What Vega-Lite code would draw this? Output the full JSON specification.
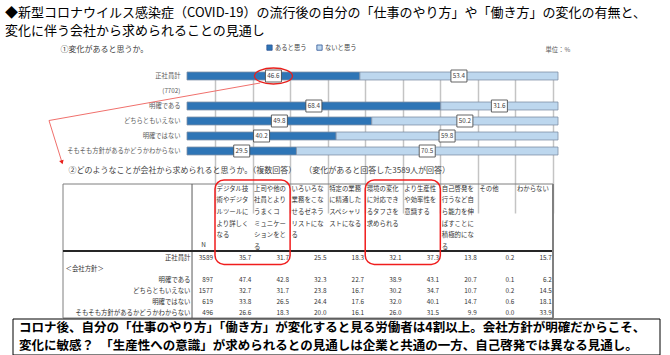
{
  "$schema": "https://vega.github.io/schema/vega-lite/v6.json",
  "width": 670,
  "height": 317,
  "padding": {"top": 7, "left": 0, "right": 0, "bottom": 0},
  "autosize": {"type": "pad"},
  "config": {"font": "Noto Sans CJK JP", "view": {"stroke": null}},
  "title": {
    "text": ["◆新型コロナウイルス感染症（COVID-19）の流行後の自分の「仕事のやり方」や「働き方」の変化の有無と、", "変化に伴う会社から求められることの見通し"],
    "anchor": "start", "fontSize": 13, "lineHeight": 18, "fontWeight": "normal", "color": "#000000", "offset": 2, "dx": 5, "font": "Noto Sans CJK JP"
  },
  "datasets": {
    "bars": [
      {"grp": "正社員計", "type": "あると思う", "pct": 46.6},
      {"grp": "正社員計", "type": "ないと思う", "pct": 53.4},
      {"grp": "明確である", "type": "あると思う", "pct": 68.4},
      {"grp": "明確である", "type": "ないと思う", "pct": 31.6},
      {"grp": "どちらともいえない", "type": "あると思う", "pct": 49.8},
      {"grp": "どちらともいえない", "type": "ないと思う", "pct": 50.2},
      {"grp": "明確ではない", "type": "あると思う", "pct": 40.2},
      {"grp": "明確ではない", "type": "ないと思う", "pct": 59.8},
      {"grp": "そもそも方針があるかどうかわからない", "type": "あると思う", "pct": 29.5},
      {"grp": "そもそも方針があるかどうかわからない", "type": "ないと思う", "pct": 70.5}
    ],
    "cols": [
      {"col": "デジタル技術やデジタルツールにより詳しくなる", "lines": ["デジタル技", "術やデジタ", "ルツールに", "より詳しく", "なる"]},
      {"col": "上司や他の社員とよりうまくコミュニケーションをとる", "lines": ["上司や他の", "社員とより", "うまくコ", "ミュニケー", "ションをと", "る"]},
      {"col": "いろいろな業務をこなせるゼネラリストになる", "lines": ["いろいろな", "業務をこな", "せるゼネラ", "リストにな", "る"]},
      {"col": "特定の業務に精通したスペシャリストになる", "lines": ["特定の業務", "に精通した", "スペシャリ", "ストになる"]},
      {"col": "環境の変化に対応できるタフさを求められる", "lines": ["環境の変化", "に対応でき", "るタフさを", "求められる"]},
      {"col": "より生産性や効率性を意識する", "lines": ["より生産性", "や効率性を", "意識する"]},
      {"col": "自己啓発を行うなど自ら能力を伸ばすことに積極的になる", "lines": ["自己啓発を", "行うなど自", "ら能力を伸", "ばすことに", "積極的にな", "る"]},
      {"col": "その他", "lines": ["その他"]},
      {"col": "わからない", "lines": ["わからない"]}
    ],
    "highlight": [
      {"from": "デジタル技術やデジタルツールにより詳しくなる", "to": "上司や他の社員とよりうまくコミュニケーションをとる"},
      {"from": "環境の変化に対応できるタフさを求められる", "to": "より生産性や効率性を意識する"}
    ],
    "table": [
      {"row": "正社員計", "N": 3589, "デジタル技術やデジタルツールにより詳しくなる": 35.7, "上司や他の社員とよりうまくコミュニケーションをとる": 31.7, "いろいろな業務をこなせるゼネラリストになる": 25.5, "特定の業務に精通したスペシャリストになる": 18.3, "環境の変化に対応できるタフさを求められる": 32.1, "より生産性や効率性を意識する": 37.3, "自己啓発を行うなど自ら能力を伸ばすことに積極的になる": 13.8, "その他": 0.2, "わからない": 15.7},
      {"row": "明確である", "N": 897, "デジタル技術やデジタルツールにより詳しくなる": 47.4, "上司や他の社員とよりうまくコミュニケーションをとる": 42.8, "いろいろな業務をこなせるゼネラリストになる": 32.3, "特定の業務に精通したスペシャリストになる": 22.7, "環境の変化に対応できるタフさを求められる": 38.9, "より生産性や効率性を意識する": 43.1, "自己啓発を行うなど自ら能力を伸ばすことに積極的になる": 20.7, "その他": 0.1, "わからない": 6.2},
      {"row": "どちらともいえない", "N": 1577, "デジタル技術やデジタルツールにより詳しくなる": 32.7, "上司や他の社員とよりうまくコミュニケーションをとる": 31.7, "いろいろな業務をこなせるゼネラリストになる": 23.8, "特定の業務に精通したスペシャリストになる": 16.7, "環境の変化に対応できるタフさを求められる": 30.2, "より生産性や効率性を意識する": 34.7, "自己啓発を行うなど自ら能力を伸ばすことに積極的になる": 10.7, "その他": 0.2, "わからない": 14.5},
      {"row": "明確ではない", "N": 619, "デジタル技術やデジタルツールにより詳しくなる": 33.8, "上司や他の社員とよりうまくコミュニケーションをとる": 26.5, "いろいろな業務をこなせるゼネラリストになる": 24.4, "特定の業務に精通したスペシャリストになる": 17.6, "環境の変化に対応できるタフさを求められる": 32.0, "より生産性や効率性を意識する": 40.1, "自己啓発を行うなど自ら能力を伸ばすことに積極的になる": 14.7, "その他": 0.6, "わからない": 18.1},
      {"row": "そもそも方針があるかどうかわからない", "N": 496, "デジタル技術やデジタルツールにより詳しくなる": 26.6, "上司や他の社員とよりうまくコミュニケーションをとる": 18.3, "いろいろな業務をこなせるゼネラリストになる": 20.0, "特定の業務に精通したスペシャリストになる": 16.1, "環境の変化に対応できるタフさを求められる": 26.0, "より生産性や効率性を意識する": 31.5, "自己啓発を行うなど自ら能力を伸ばすことに積極的になる": 9.9, "その他": 0.0, "わからない": 33.9}
    ],
    "nhead": [{"h": "N"}],
    "summary": [
      {"kind": "まとめ", "lines": ["コロナ後、自分の「仕事のやり方」「働き方」が変化すると見る労働者は4割以上。会社方針が明確だからこそ、", "変化に敏感？　「生産性への意識」が求められるとの見通しは企業と共通の一方、自己啓発では異なる見通し。"]}
    ]
  },
  "layer": [
    {
      "data": {"name": "bars"},
      "encoding": {
        "y": {
          "field": "grp", "type": "nominal",
          "scale": {"domain": ["正社員計", "(7702)", "明確である", "どちらともいえない", "明確ではない", "そもそも方針があるかどうかわからない"], "range": [28.5, 118.5], "paddingInner": 0.47, "paddingOuter": 0.235},
          "axis": {"orient": "left", "offset": -187, "domain": false, "ticks": false, "grid": false, "labelPadding": 7, "labelFontSize": 6.3, "labelColor": "#595959", "labelLimit": 0,
                   "title": "単位：%", "titleAngle": 0, "titleX": 358, "titleY": 9, "titleAlign": "left", "titleBaseline": "middle", "titleFontSize": 6.3, "titleFontWeight": "normal", "titleColor": "#595959"}
        }
      },
      "layer": [
        {
          "mark": {"type": "bar", "stroke": "#7f8fa6", "strokeWidth": 0.8},
          "encoding": {
            "x": {"field": "pct", "type": "quantitative", "stack": "zero",
                  "scale": {"domain": [0, 100], "range": [187, 558], "nice": false},
                  "axis": {"orient": "top", "labels": false, "ticks": false, "domain": false, "grid": false,
                           "title": "①変化があると思うか。", "titleX": 60, "titleY": 9, "titleAlign": "left", "titleBaseline": "middle", "titleFontSize": 8, "titleFontWeight": "normal", "titleColor": "#404040"}},
            "color": {"field": "type", "type": "nominal",
                      "scale": {"domain": ["あると思う", "ないと思う"], "range": ["#2e75b6", "#bdd7ee"]},
                      "legend": {"orient": "none", "legendX": 266, "legendY": 4, "direction": "horizontal", "title": null, "labelFontSize": 6.3, "labelColor": "#404040", "symbolType": "square", "symbolSize": 28, "symbolStrokeColor": "#2f5597", "symbolStrokeWidth": 0.8, "columnPadding": 8, "labelOffset": 2}},
            "order": {"field": "type", "sort": "ascending"}
          }
        },
        {
          "transform": [
            {"stack": "pct", "groupby": ["grp"], "sort": [{"field": "type", "order": "ascending"}], "as": ["v0", "v1"]},
            {"fold": ["v0", "v1"], "as": ["edge", "pos"]}
          ],
          "mark": {"type": "point", "shape": "M-1,-0.75L1,-0.75L1,0.75L-1,0.75Z", "size": 256, "filled": true, "fill": "#ffffff", "stroke": "#404040", "strokeWidth": 0.8, "opacity": 1},
          "encoding": {
            "x": {"aggregate": "mean", "field": "pos", "type": "quantitative"},
            "detail": {"field": "type", "type": "nominal"}
          }
        },
        {
          "transform": [
            {"stack": "pct", "groupby": ["grp"], "sort": [{"field": "type", "order": "ascending"}], "as": ["v0", "v1"]},
            {"fold": ["v0", "v1"], "as": ["edge", "pos"]}
          ],
          "mark": {"type": "text", "fontSize": 6.3, "color": "#404040"},
          "encoding": {
            "x": {"aggregate": "mean", "field": "pos", "type": "quantitative"},
            "detail": {"field": "type", "type": "nominal"},
            "text": {"field": "pct", "type": "quantitative", "format": ".1f"}
          }
        },
        {
          "transform": [
            {"stack": "pct", "groupby": ["grp"], "sort": [{"field": "type", "order": "ascending"}], "as": ["v0", "v1"]},
            {"fold": ["v0", "v1"], "as": ["edge", "pos"]},
            {"filter": "datum.grp === '正社員計' && datum.type === 'あると思う'"}
          ],
          "mark": {"type": "point", "shape": "M-1,0C-1,-0.232,-0.552,-0.42,0,-0.42C0.552,-0.42,1,-0.232,1,0C1,0.232,0.552,0.42,0,0.42C-0.552,0.42,-1,0.232,-1,0Z", "size": 1444, "filled": false, "stroke": "#e8201c", "strokeWidth": 1.3, "opacity": 1},
          "encoding": {
            "x": {"aggregate": "mean", "field": "pos", "type": "quantitative"},
            "detail": {"field": "type", "type": "nominal"}
          }
        },
        {
          "transform": [{"filter": "datum.grp === '正社員計' && datum.type === 'あると思う'"}],
          "mark": {"type": "rule", "stroke": "#f0706c", "strokeWidth": 1},
          "encoding": {
            "x": {"datum": 19.7, "type": "quantitative"},
            "x2": {"datum": -37.2},
            "y": {"datum": "正社員計", "type": "nominal", "bandPosition": 1.38},
            "y2": {"datum": "正社員計", "bandPosition": 6.1}
          }
        },
        {
          "transform": [{"filter": "datum.grp === '正社員計' && datum.type === 'あると思う'"}],
          "mark": {"type": "rule", "stroke": "#f0706c", "strokeWidth": 1},
          "encoding": {
            "x": {"datum": -37.2, "type": "quantitative"},
            "x2": {"datum": -33.8},
            "y": {"datum": "正社員計", "type": "nominal", "bandPosition": 6.1},
            "y2": {"datum": "正社員計", "bandPosition": 11.2}
          }
        },
        {
          "transform": [{"filter": "datum.grp === '正社員計' && datum.type === 'あると思う'"}],
          "mark": {"type": "point", "shape": "triangle-down", "size": 22, "filled": true, "color": "#e8201c", "opacity": 1, "angle": -17},
          "encoding": {
            "x": {"datum": -33.7, "type": "quantitative"},
            "y": {"datum": "正社員計", "type": "nominal", "bandPosition": 11.35}
          }
        }
      ]
    },
    {
      "layer": [
        {
          "data": {"name": "cols"},
          "mark": {"type": "text", "align": "left", "baseline": "top", "dx": 1.5, "dy": 1.5, "fontSize": 6.4, "lineHeight": 11.7, "color": "#333333"},
          "encoding": {
            "x": {"field": "col", "type": "nominal", "bandPosition": 0,
                  "scale": {"domain": ["デジタル技術やデジタルツールにより詳しくなる", "上司や他の社員とよりうまくコミュニケーションをとる", "いろいろな業務をこなせるゼネラリストになる", "特定の業務に精通したスペシャリストになる", "環境の変化に対応できるタフさを求められる", "より生産性や効率性を意識する", "自己啓発を行うなど自ら能力を伸ばすことに積極的になる", "その他", "わからない"], "range": [215, 553], "paddingInner": 0, "paddingOuter": 0},
                  "axis": {"orient": "bottom", "labels": false, "ticks": false, "domain": false, "grid": true, "tickBand": "extent", "gridColor": "#c4c4c4", "gridWidth": 1.5, "title": null}},
            "y": {"datum": "表頭", "type": "nominal", "bandPosition": 0,
                  "scale": {"domain": ["表頭", "表体"], "range": [144, 278], "paddingInner": 0, "paddingOuter": 0},
                  "axis": null},
            "text": {"field": "lines"}
          }
        },
        {
          "data": {"name": "nhead"},
          "mark": {"type": "text", "align": "center", "baseline": "middle", "dx": -11.5, "dy": -6, "fontSize": 6.4, "color": "#333333"},
          "encoding": {
            "x": {"datum": "デジタル技術やデジタルツールにより詳しくなる", "type": "nominal", "bandPosition": 0},
            "y": {"datum": "表体", "type": "nominal", "bandPosition": 0},
            "text": {"field": "h"}
          }
        },
        {
          "data": {"name": "nhead"},
          "mark": {"type": "rule", "stroke": "#7f7f7f", "strokeWidth": 1},
          "encoding": {
            "x": {"datum": "デジタル技術やデジタルツールにより詳しくなる", "type": "nominal", "bandPosition": -4.047},
            "x2": {"datum": "わからない", "bandPosition": 1},
            "y": {"datum": "表頭", "type": "nominal", "bandPosition": 0}
          }
        },
        {
          "data": {"name": "nhead"},
          "mark": {"type": "rule", "stroke": "#7f7f7f", "strokeWidth": 1},
          "encoding": {
            "x": {"datum": "デジタル技術やデジタルツールにより詳しくなる", "type": "nominal", "bandPosition": -4.047},
            "x2": {"datum": "わからない", "bandPosition": 1},
            "y": {"datum": "表体", "type": "nominal", "bandPosition": 1}
          }
        },
        {
          "data": {"name": "nhead"},
          "mark": {"type": "rule", "stroke": "#7f7f7f", "strokeWidth": 1},
          "encoding": {
            "x": {"datum": "デジタル技術やデジタルツールにより詳しくなる", "type": "nominal", "bandPosition": -4.047},
            "y": {"datum": "表頭", "type": "nominal", "bandPosition": 0},
            "y2": {"datum": "表体", "bandPosition": 1}
          }
        },
        {
          "data": {"name": "nhead"},
          "mark": {"type": "rule", "stroke": "#595959", "strokeWidth": 1},
          "encoding": {
            "x": {"datum": "デジタル技術やデジタルツールにより詳しくなる", "type": "nominal", "bandPosition": -0.612},
            "y": {"datum": "表頭", "type": "nominal", "bandPosition": 0},
            "y2": {"datum": "表体", "bandPosition": 1}
          }
        },
        {
          "data": {"name": "nhead"},
          "mark": {"type": "rule", "stroke": "#262626", "strokeWidth": 2},
          "encoding": {
            "x": {"datum": "デジタル技術やデジタルツールにより詳しくなる", "type": "nominal", "bandPosition": -4.047},
            "x2": {"datum": "わからない", "bandPosition": 1},
            "y": {"datum": "表体", "type": "nominal", "bandPosition": 0}
          }
        },
        {
          "data": {"name": "cols"},
          "transform": [{"filter": "datum.col === 'わからない'"}],
          "mark": {"type": "rule", "stroke": "#808080", "strokeWidth": 2},
          "encoding": {
            "x": {"field": "col", "type": "nominal", "bandPosition": 1},
            "y": {"datum": "表頭", "type": "nominal", "bandPosition": 0},
            "y2": {"datum": "表体", "bandPosition": 1}
          }
        },
        {
          "data": {"name": "highlight"},
          "mark": {"type": "rect", "filled": false, "fill": null, "stroke": "#f01d1d", "strokeWidth": 1.5, "cornerRadius": 9},
          "encoding": {
            "x": {"field": "from", "type": "nominal", "bandPosition": 0},
            "x2": {"field": "to", "bandPosition": 1},
            "y": {"datum": "表頭", "type": "nominal", "bandPosition": -0.06},
            "y2": {"datum": "表体", "bandPosition": 0.2}
          }
        }
      ]
    },
    {
      "data": {"name": "table"},
      "layer": [
        {
          "mark": {"type": "text", "align": "right", "baseline": "middle", "dx": -20.8, "fontSize": 6.4, "color": "#333333"},
          "encoding": {
            "x": {"datum": "デジタル技術やデジタルツールにより詳しくなる", "type": "nominal",
                  "scale": {"domain": ["デジタル技術やデジタルツールにより詳しくなる", "上司や他の社員とよりうまくコミュニケーションをとる", "いろいろな業務をこなせるゼネラリストになる", "特定の業務に精通したスペシャリストになる", "環境の変化に対応できるタフさを求められる", "より生産性や効率性を意識する", "自己啓発を行うなど自ら能力を伸ばすことに積極的になる", "その他", "わからない"], "range": [215, 553], "paddingInner": 0, "paddingOuter": 0},
                  "axis": {"orient": "top", "labels": false, "ticks": false, "domain": false, "grid": false,
                           "title": "②どのようなことが会社から求められると思うか。（複数回答）　　（変化があると回答した3589人が回答）", "titleX": 68, "titleY": 130, "titleAlign": "left", "titleBaseline": "middle", "titleFontSize": 8, "titleFontWeight": "normal", "titleColor": "#404040"}},
            "y": {"field": "row", "type": "nominal",
                  "scale": {"domain": ["正社員計", "＜会社方針＞", "明確である", "どちらともいえない", "明確ではない", "そもそも方針があるかどうかわからない"], "range": [212, 278], "paddingInner": 0, "paddingOuter": 0},
                  "axis": {"orient": "left", "offset": -192, "domain": false, "ticks": false, "grid": false, "labelLimit": 0,
                           "labelPadding": {"condition": {"test": "datum.value === '＜会社方針＞'", "value": 127}, "value": 2},
                           "labelAlign": {"condition": {"test": "datum.value === '＜会社方針＞'", "value": "left"}, "value": "right"},
                           "labelFontSize": 6.4, "labelColor": "#333333", "title": null}},
            "text": {"field": "N", "type": "quantitative", "format": "d"}
          }
        },
        {
          "transform": [{"fold": ["デジタル技術やデジタルツールにより詳しくなる", "上司や他の社員とよりうまくコミュニケーションをとる", "いろいろな業務をこなせるゼネラリストになる", "特定の業務に精通したスペシャリストになる", "環境の変化に対応できるタフさを求められる", "より生産性や効率性を意識する", "自己啓発を行うなど自ら能力を伸ばすことに積極的になる", "その他", "わからない"], "as": ["col", "v"]}],
          "mark": {"type": "text", "align": "right", "baseline": "middle", "dx": 17.6, "fontSize": 6.4, "color": "#333333"},
          "encoding": {
            "x": {"field": "col", "type": "nominal"},
            "y": {"field": "row", "type": "nominal"},
            "text": {"field": "v", "type": "quantitative", "format": ".1f"}
          }
        }
      ]
    },
    {
      "data": {"name": "summary"},
      "encoding": {
        "x": {"field": "kind", "type": "nominal", "scale": {"range": [13, 660], "paddingInner": 0, "paddingOuter": 0}, "axis": null},
        "y": {"field": "kind", "type": "nominal", "scale": {"range": [279, 315], "paddingInner": 0, "paddingOuter": 0}, "axis": null}
      },
      "layer": [
        {"mark": {"type": "rect", "fill": "#ffffff", "stroke": "#000000", "strokeWidth": 1}},
        {
          "mark": {"type": "text", "align": "left", "baseline": "middle", "dx": 6, "fontSize": 12.5, "fontWeight": "bold", "lineHeight": 18.2, "color": "#000000"},
          "encoding": {
            "x": {"field": "kind", "type": "nominal", "bandPosition": 0},
            "y": {"field": "kind", "type": "nominal", "bandPosition": 0.24},
            "text": {"field": "lines"}
          }
        }
      ]
    }
  ],
  "resolve": {
    "scale": {"x": "independent", "y": "independent", "color": "independent"},
    "axis": {"x": "independent", "y": "independent"},
    "legend": {"color": "independent"}
  }
}
